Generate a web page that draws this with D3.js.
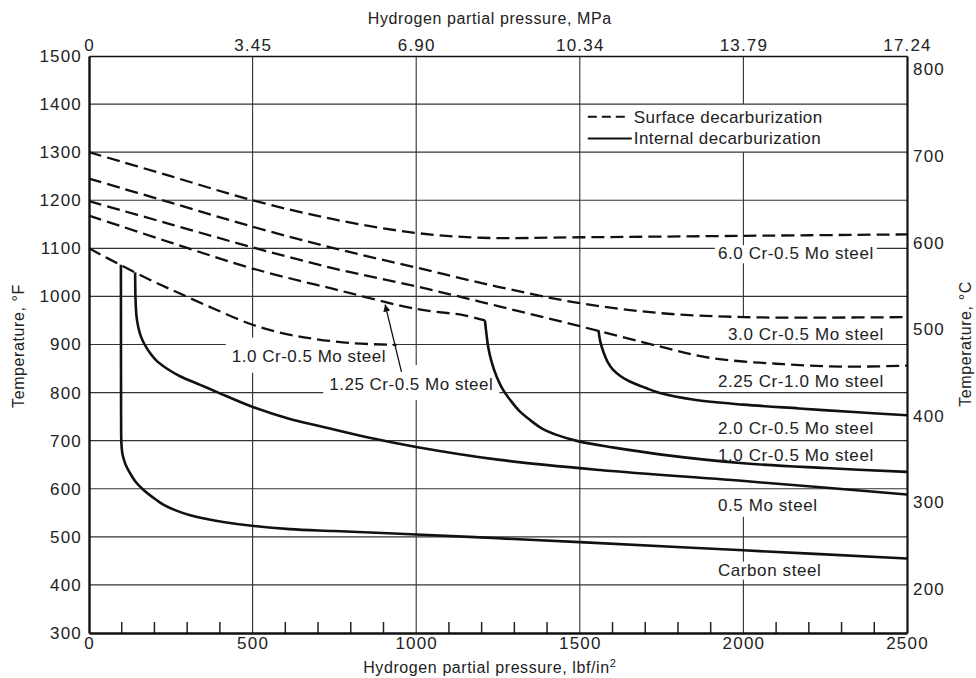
<!DOCTYPE html>
<html>
<head>
<meta charset="utf-8">
<script src="https://cdn.jsdelivr.net/npm/d3@7"></script>
<style>
body { margin: 0; background: #fff; }
text { font-family: "Liberation Sans", Arial, sans-serif; fill: #222; }
</style>
</head>
<body>
<div id="chart"></div>
<script>
// pressure in lbf/in2, temperature in deg F
var surface6Cr = [[0,1300],[250,1250],[500,1200],[750,1160],[1000,1132],[1200,1122],[1500,1123],[2000,1126],[2500,1129]];
var surface3Cr = [[0,1245],[250,1195],[500,1145],[750,1100],[1000,1060],[1250,1020],[1500,986],[1750,965],[2000,957],[2250,956],[2500,957]];
var surface225Cr = [[0,1198],[250,1150],[500,1102],[750,1058],[1000,1021],[1250,980],[1500,938],[1750,895],[1900,872],[2100,860],[2300,854],[2500,856]];
var surface125Cr = [[0,1168],[250,1112],[500,1058],[750,1015],[1000,974],[1144,961],[1210,950]];
var surface1Cr = [[0,1100],[100,1064],[200,1030],[278,1006],[380,975],[500,941],[600,922],[685,912],[800,903],[940,899]];

var internal2Cr = [[1557,930],[1563,905],[1572,885],[1585,864],[1602,847],[1625,834],[1653,823],[1700,810],[1745,799],[1850,785],[2000,775],[2170,767],[2350,759],[2500,753]];
var internal1Cr = [[1210,950],[1215,920],[1220,895],[1230,865],[1246,833],[1265,806],[1287,785],[1315,762],[1348,743],[1385,725],[1429,712],[1500,698],[1600,686],[1750,671],[2000,653],[2250,643],[2500,635]];
var internal05Mo = [[141,1050],[142,1000],[145,960],[150,938],[158,918],[170,900],[185,884],[207,866],[240,849],[278,834],[340,816],[395,800],[497,771],[614,745],[700,731],[850,707],[1000,687],[1256,660],[1562,639],[2020,615],[2500,588]];
var internalCarbon = [[97.5,1066],[97.8,850],[98,760],[98.3,715],[99,695],[101,678],[104,667],[112,650],[125,633],[143,614],[166,598],[195,582],[227,567],[265,555],[309,545],[360,537],[410,531],[497,523],[614,516],[750,512],[1000,505],[1250,497],[1500,489],[2000,472],[2500,455]];

var pressureTicks = [0, 500, 1000, 1500, 2000, 2500];
var mpaLabels = ["0", "3.45", "6.90", "10.34", "13.79", "17.24"];
var minorTicks = [100,200,300,400,600,700,800,900,1100,1200,1300,1400,1600,1700,1800,1900,2100,2200,2300,2400];
var tempTicksF = [300,400,500,600,700,800,900,1000,1100,1200,1300,1400,1500];
var gridTempsF = [400,500,600,700,800,900,1000,1100,1200,1300,1400];
var tempTicksC = [200,300,400,500,600,700,800];

var rightLabels = ["6.0 Cr-0.5 Mo steel", "3.0 Cr-0.5 Mo steel", "2.25 Cr-1.0 Mo steel", "2.0 Cr-0.5 Mo steel", "1.0 Cr-0.5 Mo steel", "0.5 Mo steel", "Carbon steel"];
var rightLabelAt = [[1922,1090],[1953,923],[1922,824],[1922,726],[1922,670],[1922,566],[1922,432]];
var leftLabels = ["1.0 Cr-0.5 Mo steel", "1.25 Cr-0.5 Mo steel"];
var leftLabelAt = [[672,876],[985,819]];
var arrowFrom = [955,843];
var arrowTo = [905,983];

var svgWidth = 976;
var svgHeight = 678;

var margin = {
  top: 56,
  right: 69,
  bottom: 45,
  left: 89
};

var width = svgWidth - margin.left - margin.right;
var height = svgHeight - margin.top - margin.bottom;

var svg = d3.select("#chart")
  .append("svg")
  .attr("width", svgWidth)
  .attr("height", svgHeight);

var chartGroup = svg.append("g")
  .attr("transform", `translate(${margin.left}, ${margin.top})`);

var x = d3.scaleLinear().domain([0, 2500]).range([0, width]);
var y = d3.scaleLinear().domain([300, 1500]).range([height, 0]);
var yC = d3.scaleLinear()
  .domain([(300 - 32) / 1.8, (1500 - 32) / 1.8])
  .range([height, 0]);

// grid
chartGroup.selectAll(".hgrid")
  .data(gridTempsF)
  .enter()
  .append("line")
  .attr("x1", 0).attr("x2", width)
  .attr("y1", d => y(d)).attr("y2", d => y(d))
  .attr("stroke", "#333").attr("stroke-width", 1.1);

chartGroup.selectAll(".vgrid")
  .data([500, 1000, 1500])
  .enter()
  .append("line")
  .attr("x1", d => x(d)).attr("x2", d => x(d))
  .attr("y1", 0).attr("y2", height)
  .attr("stroke", "#333").attr("stroke-width", 1.1);

// 2000 line is broken by the legend and the label column
chartGroup.selectAll(".vgrid2000")
  .data([[1500, 1400], [1300, 957], [542, 300]])
  .enter()
  .append("line")
  .attr("x1", x(2000)).attr("x2", x(2000))
  .attr("y1", d => y(d[0])).attr("y2", d => y(d[1]))
  .attr("stroke", "#333").attr("stroke-width", 1.1);

// minor ticks on the bottom axis
chartGroup.selectAll(".minor")
  .data(minorTicks)
  .enter()
  .append("line")
  .attr("x1", d => x(d)).attr("x2", d => x(d))
  .attr("y1", height).attr("y2", height - 11)
  .attr("stroke", "#222").attr("stroke-width", 1.5);

// labels first, so their boxes can be measured
var leftText = chartGroup.selectAll(".leftlab")
  .data(leftLabels)
  .enter()
  .append("text")
  .attr("x", (d, i) => x(leftLabelAt[i][0]))
  .attr("y", (d, i) => y(leftLabelAt[i][1]))
  .attr("dy", "0.36em")
  .attr("text-anchor", "middle")
  .attr("font-size", "17px")
  .attr("letter-spacing", "0.5px")
  .text(d => d);

var rightText = chartGroup.selectAll(".rightlab")
  .data(rightLabels)
  .enter()
  .append("text")
  .attr("x", (d, i) => x(rightLabelAt[i][0]))
  .attr("y", (d, i) => y(rightLabelAt[i][1]))
  .attr("dy", "0.36em")
  .attr("font-size", "17px")
  .attr("letter-spacing", "0.6px")
  .text(d => d);

// white boxes behind labels
var boxGroup = chartGroup.insert("g", "text");
leftText.each(function() {
  var b = this.getBBox();
  var cy = b.y + b.height / 2;
  boxGroup.append("rect")
    .attr("x", b.x - 6).attr("y", cy - 19)
    .attr("width", b.width + 12).attr("height", 35)
    .attr("fill", "#fff");
});
rightText.each(function() {
  var b = this.getBBox();
  boxGroup.append("rect")
    .attr("x", b.x - 3).attr("y", b.y + 1)
    .attr("width", b.width + 6).attr("height", b.height - 1)
    .attr("fill", "#fff");
});

// curves
var line = d3.line()
  .x(d => x(d[0]))
  .y(d => y(d[1]))
  .curve(d3.curveCatmullRom.alpha(0.5));

var curveGroup = chartGroup.append("g");
chartGroup.selectAll("text").raise();

[surface6Cr, surface3Cr, surface225Cr, surface125Cr, surface1Cr].forEach(function(s) {
  curveGroup.append("path")
    .attr("d", line(s))
    .attr("fill", "none")
    .attr("stroke", "#111")
    .attr("stroke-width", 2.3)
    .attr("stroke-dasharray", "13,6");
});

[internal2Cr, internal1Cr, internal05Mo, internalCarbon].forEach(function(s) {
  curveGroup.append("path")
    .attr("d", line(s))
    .attr("fill", "none")
    .attr("stroke", "#111")
    .attr("stroke-width", 2.6)
    .attr("stroke-linejoin", "round");
});

// arrow to the 1.25 Cr curve
svg.append("defs").append("marker")
  .attr("id", "head")
  .attr("viewBox", "0 0 10 10")
  .attr("refX", 10).attr("refY", 5)
  .attr("markerUnits", "userSpaceOnUse")
  .attr("markerWidth", 9).attr("markerHeight", 7)
  .attr("orient", "auto")
  .append("path")
  .attr("d", "M0,0L10,5L0,10Z")
  .attr("fill", "#111");

chartGroup.append("line")
  .attr("x1", x(arrowFrom[0])).attr("y1", y(arrowFrom[1]))
  .attr("x2", x(arrowTo[0])).attr("y2", y(arrowTo[1]))
  .attr("stroke", "#111").attr("stroke-width", 1.3)
  .attr("marker-end", "url(#head)");

// legend in the 1500-2500 / 1300-1400 cell
var legend = chartGroup.append("g")
  .attr("transform", `translate(${x(1500)}, ${y(1400)})`);

legend.append("line")
  .attr("x1", 8).attr("x2", 48).attr("y1", 12.7).attr("y2", 12.7)
  .attr("stroke", "#111").attr("stroke-width", 2).attr("stroke-dasharray", "9,5");
legend.append("line")
  .attr("x1", 8).attr("x2", 52).attr("y1", 34.3).attr("y2", 34.3)
  .attr("stroke", "#111").attr("stroke-width", 2);
legend.append("text")
  .attr("x", 54).attr("y", 12.7).attr("dy", "0.36em")
  .attr("font-size", "17px").attr("letter-spacing", "0.4px")
  .text("Surface decarburization");
legend.append("text")
  .attr("x", 54).attr("y", 34.3).attr("dy", "0.36em")
  .attr("font-size", "17px").attr("letter-spacing", "0.4px")
  .text("Internal decarburization");

// axes
var fmt = d3.format("d");
var leftAxis = d3.axisLeft(y).tickValues(tempTicksF).tickFormat(fmt).tickSize(0).tickSizeOuter(0).tickPadding(7);
var bottomAxis = d3.axisBottom(x).tickValues(pressureTicks).tickFormat(fmt).tickSize(0).tickSizeOuter(0).tickPadding(4);
var topAxis = d3.axisTop(x).tickValues(pressureTicks).tickSize(0).tickSizeOuter(0).tickPadding(5)
  .tickFormat((d, i) => mpaLabels[i]);
var rightAxis = d3.axisRight(yC).tickValues(tempTicksC).tickFormat(fmt).tickSize(0).tickSizeOuter(0).tickPadding(6);

var gl = chartGroup.append("g").call(leftAxis);
var gb = chartGroup.append("g").attr("transform", `translate(0, ${height})`).call(bottomAxis);
var gt = chartGroup.append("g").call(topAxis);
var gr = chartGroup.append("g").attr("transform", `translate(${width}, 0)`).call(rightAxis);

[gl, gb, gt, gr].forEach(function(g) {
  g.selectAll("text")
    .attr("font-size", "17px")
    .attr("letter-spacing", "1.2px")
    .attr("font-family", "\"Liberation Sans\", Arial, sans-serif")
    .attr("fill", "#222");
  g.select(".domain").attr("stroke", "#111");
});
gl.select(".domain").attr("stroke-width", 2.4);
gb.select(".domain").attr("stroke-width", 2.4);
gt.select(".domain").attr("stroke-width", 1.6);
gr.select(".domain").attr("stroke-width", 2.2);

// axis titles
svg.append("text")
  .attr("x", margin.left + x(1225))
  .attr("y", 24)
  .attr("text-anchor", "middle")
  .attr("font-size", "16px")
  .attr("letter-spacing", "0.6px")
  .text("Hydrogen partial pressure, MPa");

var bt = svg.append("text")
  .attr("x", margin.left + x(1225))
  .attr("y", 673)
  .attr("text-anchor", "middle")
  .attr("font-size", "16px")
  .attr("letter-spacing", "0.6px");
bt.append("tspan").text("Hydrogen partial pressure, lbf/in");
bt.append("tspan").attr("dy", "-6").attr("font-size", "11px").text("2");

svg.append("text")
  .attr("transform", "translate(24, 346) rotate(-90)")
  .attr("text-anchor", "middle")
  .attr("font-size", "16px")
  .attr("letter-spacing", "0.6px")
  .text("Temperature, \u00b0F");

svg.append("text")
  .attr("transform", "translate(971, 344) rotate(-90)")
  .attr("text-anchor", "middle")
  .attr("font-size", "16px")
  .attr("letter-spacing", "0.6px")
  .text("Temperature, \u00b0C");
</script>
</body>
</html>
